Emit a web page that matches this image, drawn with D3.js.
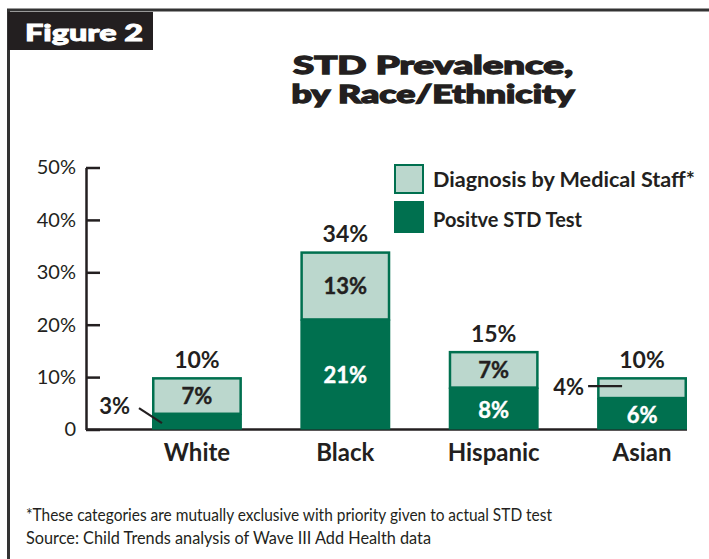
<!DOCTYPE html>
<html>
<head>
<meta charset="utf-8">
<script src="https://cdn.jsdelivr.net/npm/d3@7/dist/d3.min.js"></script>
<style>
  body { margin: 0; background: #fff; }
  svg { display: block; }
</style>
</head>
<body>
<svg id="chart" width="709" height="559"></svg>
<script>
// STD prevalence by race/ethnicity (percent of young adults)
const categories   = ["White", "Black", "Hispanic", "Asian"];
const positiveTest = [3, 21, 8, 6];     // positive STD test
const diagnosis    = [7, 13, 7, 4];     // diagnosis by medical staff only
const totals       = [10, 34, 15, 10];  // combined prevalence
const yTicks       = [0, 10, 20, 30, 40, 50];
const seriesNames  = ["Diagnosis by Medical Staff*", "Positve STD Test"];
const titleLines   = ["STD Prevalence,", "by Race/Ethnicity"];
const notes        = ["*These categories are mutually exclusive with priority given to actual STD test",
                      "Source:  Child Trends analysis of Wave III Add Health data"];

const INK = "#231f20";
const DARK = "#00704f";
const LIGHT = "#bbd7cd";
const FONT = "Lato, 'Open Sans', 'DejaVu Sans', sans-serif";

const svg = d3.select("#chart");

// Frame: top rule, left rule, figure tab
svg.append("line").attr("x1", 7).attr("x2", 709).attr("y1", 10).attr("y2", 10)
  .attr("stroke", "#333").attr("stroke-width", 3);
svg.append("line").attr("x1", 8.5).attr("x2", 8.5).attr("y1", 9).attr("y2", 559)
  .attr("stroke", "#333").attr("stroke-width", 3);
svg.append("rect").attr("x", 8).attr("y", 12).attr("width", 145).attr("height", 38).attr("fill", INK);
svg.append("text").attr("x", 25).attr("y", 41)
  .attr("font-family", FONT).attr("font-weight", 900).attr("font-size", 23)
  .attr("fill", "#fff").attr("stroke", "#fff").attr("stroke-width", 0.9)
  .attr("textLength", 118).attr("lengthAdjust", "spacingAndGlyphs")
  .text("Figure 2");

// Title: two centred heavy lines
const titleWidths = [280, 283];
const titleBase = [73.5, 103];
titleLines.forEach((t, i) => {
  svg.append("text").attr("x", 433).attr("y", titleBase[i]).attr("text-anchor", "middle")
    .attr("font-family", FONT).attr("font-weight", 900).attr("font-size", 24.5)
    .attr("fill", INK).attr("stroke", INK).attr("stroke-width", 1.3)
    .attr("textLength", titleWidths[i]).attr("lengthAdjust", "spacingAndGlyphs")
    .text(t);
});

// Scales
const y = d3.scaleLinear().domain([0, 50]).range([429.5, 167.5]);
const x = d3.scaleBand().domain(categories).range([152, 687]).paddingInner(0.394).paddingOuter(0);

// Y axis (ticks point inward, to the right)
const yAxis = svg.append("g").attr("transform", "translate(86,0)")
  .call(d3.axisLeft(y).tickValues(yTicks).tickSizeInner(-14).tickSizeOuter(0).tickPadding(10)
    .tickFormat(d => d === 0 ? "0" : d + "%"));
yAxis.select(".domain").attr("stroke", INK).attr("stroke-width", 2.5);
yAxis.selectAll(".tick line").attr("stroke", INK).attr("stroke-width", 2.5);
yAxis.selectAll(".tick text").attr("fill", INK).attr("font-family", FONT)
  .attr("font-size", 20).attr("font-weight", 400);

// Baseline
svg.append("line").attr("x1", 86).attr("x2", x.range()[1]).attr("y1", y(0)).attr("y2", y(0))
  .attr("stroke", INK).attr("stroke-width", 2.5);

// Category labels
const xAxis = svg.append("g").attr("transform", `translate(0,${y(0)})`)
  .call(d3.axisBottom(x).tickSize(0).tickPadding(14));
xAxis.select(".domain").remove();
xAxis.selectAll(".tick text").attr("fill", INK).attr("font-family", FONT)
  .attr("font-size", 24).attr("font-weight", 700);

// Stacked bars
const rows = categories.map((c, i) => ({ cat: c, pos: positiveTest[i], diag: diagnosis[i], total: totals[i] }));
const bars = svg.append("g").selectAll("g").data(rows).join("g");

bars.append("rect")
  .attr("x", d => x(d.cat)).attr("width", x.bandwidth())
  .attr("y", d => y(d.pos)).attr("height", d => y(0) - y(d.pos))
  .attr("fill", DARK);

bars.append("rect")
  .attr("x", d => x(d.cat) + 1.25).attr("width", x.bandwidth() - 2.5)
  .attr("y", d => y(d.pos + d.diag) + 1.25).attr("height", d => y(d.pos) - y(d.pos + d.diag) - 1.25)
  .attr("fill", LIGHT).attr("stroke", DARK).attr("stroke-width", 2.5);

// Totals above bars
bars.append("text")
  .attr("x", d => x(d.cat) + x.bandwidth() / 2).attr("y", d => y(d.total) - 9)
  .attr("text-anchor", "middle").attr("font-family", FONT).attr("font-weight", 700)
  .attr("font-size", 23).attr("fill", INK)
  .text(d => d.total + "%");

// Segment labels: inside when the segment is tall enough, otherwise a callout
const MIN_INSIDE = 5;
const segments = [];
rows.forEach((d, i) => {
  segments.push({ cat: d.cat, idx: i, value: d.pos, lo: 0, hi: d.pos, dark: true });
  segments.push({ cat: d.cat, idx: i, value: d.diag, lo: d.pos, hi: d.pos + d.diag, dark: false });
});

svg.append("g").selectAll("text")
  .data(segments.filter(s => s.value >= MIN_INSIDE)).join("text")
  .attr("x", s => x(s.cat) + x.bandwidth() / 2)
  .attr("y", s => (y(s.lo) + y(s.hi)) / 2 + 9)
  .attr("text-anchor", "middle").attr("font-family", FONT).attr("font-weight", 700)
  .attr("font-size", 22).attr("fill", s => s.dark ? "#fff" : INK)
  .attr("stroke", s => s.dark ? "#fff" : INK).attr("stroke-width", 0.4)
  .text(s => s.value + "%");

// Callout geometry, relative to the bar's left edge and segment middle
const calloutStyle = {
  White: { lineFrom: [-13, -13.5], lineTo: [10, 1.5], label: [-22, -8] },
  Asian: { lineFrom: [-9, -1.5], lineTo: [25, -1.5], label: [-13, 7.5] }
};
const callouts = svg.append("g").selectAll("g")
  .data(segments.filter(s => s.value < MIN_INSIDE)).join("g");
callouts.append("line")
  .attr("x1", s => x(s.cat) + calloutStyle[s.cat].lineFrom[0])
  .attr("y1", s => (y(s.lo) + y(s.hi)) / 2 + calloutStyle[s.cat].lineFrom[1])
  .attr("x2", s => x(s.cat) + calloutStyle[s.cat].lineTo[0])
  .attr("y2", s => (y(s.lo) + y(s.hi)) / 2 + calloutStyle[s.cat].lineTo[1])
  .attr("stroke", INK).attr("stroke-width", 2.2);
callouts.append("text")
  .attr("x", s => x(s.cat) + calloutStyle[s.cat].label[0])
  .attr("y", s => (y(s.lo) + y(s.hi)) / 2 + calloutStyle[s.cat].label[1])
  .attr("text-anchor", "end").attr("font-family", FONT).attr("font-weight", 700)
  .attr("font-size", 22).attr("fill", INK)
  .text(s => s.value + "%");

// Legend
const legend = svg.append("g");
const legendItems = [
  { name: seriesNames[0], fill: LIGHT, top: 165, h: 28, base: 187, w: 262 },
  { name: seriesNames[1], fill: DARK, top: 202, h: 30, base: 227, w: 149 }
];
legendItems.forEach(it => {
  legend.append("rect").attr("x", 395).attr("y", it.top).attr("width", 28).attr("height", it.h)
    .attr("fill", it.fill).attr("stroke", DARK).attr("stroke-width", 2);
  legend.append("text").attr("x", 433).attr("y", it.base)
    .attr("font-family", FONT).attr("font-weight", 700).attr("font-size", 21).attr("fill", INK)
    .attr("textLength", it.w).attr("lengthAdjust", "spacingAndGlyphs")
    .text(it.name);
});

// Notes
const noteWidths = [526, 405];
const noteBase = [521, 544];
notes.forEach((t, i) => {
  svg.append("text").attr("x", 26).attr("y", noteBase[i])
    .attr("font-family", FONT).attr("font-weight", 400).attr("font-size", 18).attr("fill", INK)
    .attr("textLength", noteWidths[i]).attr("lengthAdjust", "spacingAndGlyphs")
    .text(t);
});
</script>
</body>
</html>
